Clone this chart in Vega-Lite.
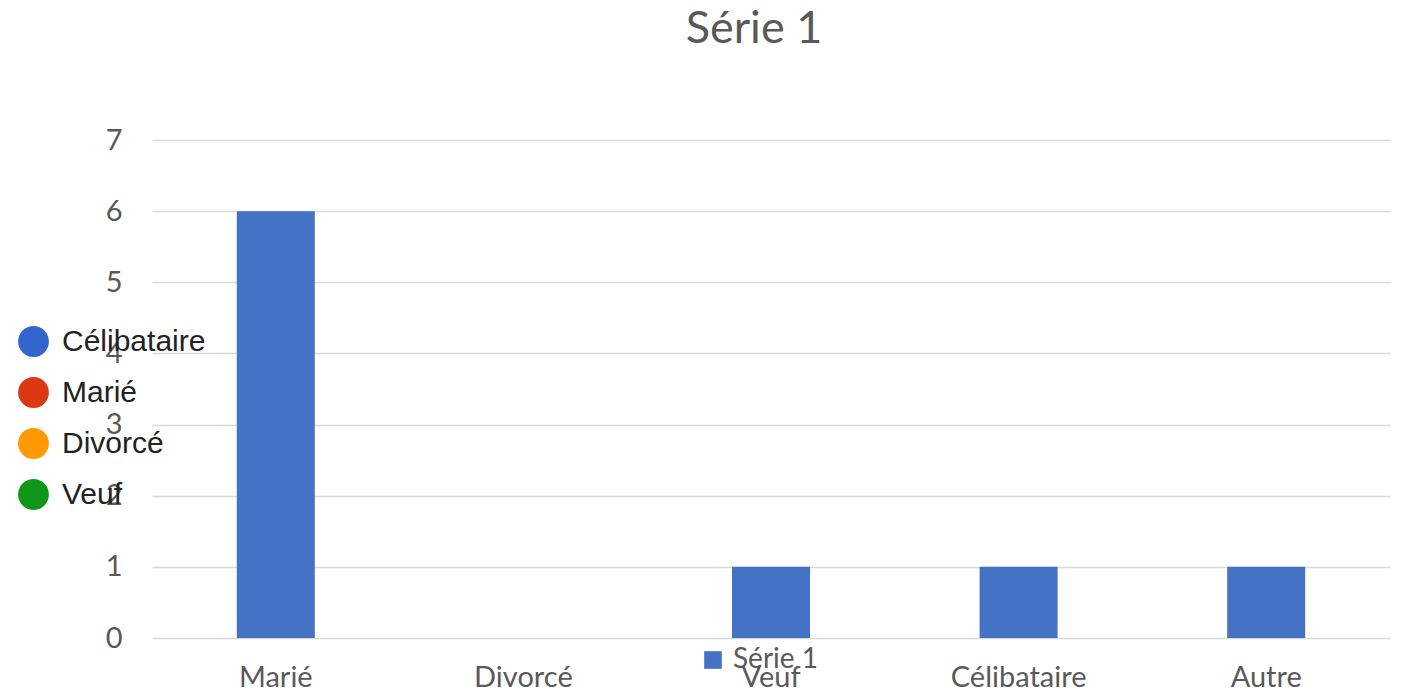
{
  "$schema": "https://vega.github.io/schema/vega-lite/v6.json",
  "autosize": "none",
  "width": 1238,
  "height": 498,
  "padding": {"left": 152, "top": 140, "right": 14, "bottom": 55},
  "background": "white",
  "title": {
    "text": "Série 1",
    "font": "Lato",
    "fontSize": 45,
    "fontWeight": "normal",
    "color": "#595959",
    "anchor": "middle",
    "dx": -17,
    "offset": 74
  },
  "config": {
    "view": {"stroke": null},
    "axis": {"labelFont": "Lato", "labelColor": "#595959", "labelFontSize": 29, "ticks": false, "domain": false, "title": null}
  },
  "layer": [
    {
      "data": {"values": [
        {"statut": "Marié", "valeur": 6, "serie": "Série 1"},
        {"statut": "Divorcé", "valeur": 0, "serie": "Série 1"},
        {"statut": "Veuf", "valeur": 1, "serie": "Série 1"},
        {"statut": "Célibataire", "valeur": 1, "serie": "Série 1"},
        {"statut": "Autre", "valeur": 1, "serie": "Série 1"}
      ]},
      "mark": {"type": "bar", "width": {"band": 0.315}},
      "encoding": {
        "x": {"field": "statut", "type": "nominal", "sort": null,
              "scale": {"paddingInner": 0, "paddingOuter": 0},
              "axis": {"labelAngle": 0, "labelPadding": 25, "grid": false}},
        "y": {"field": "valeur", "type": "quantitative",
              "scale": {"domain": [0, 7]},
              "axis": {"values": [0,1,2,3,4,5,6,7], "grid": true, "gridColor": "#d9d9d9", "gridWidth": 1.5, "labelPadding": 30}},
        "fill": {"field": "serie", "type": "nominal",
                 "scale": {"range": ["#4472C4"]},
                 "legend": {"orient": "none", "legendX": 547, "legendY": 506, "title": null,
                            "symbolType": "square", "symbolSize": 310, "labelFont": "Lato",
                            "labelFontSize": 28, "labelColor": "#595959", "labelOffset": 6}}
      }
    },
    {
      "data": {"values": [
        {"legende": "Célibataire"},
        {"legende": "Marié"},
        {"legende": "Divorcé"},
        {"legende": "Veuf"}
      ]},
      "mark": {"type": "point", "filled": true, "opacity": 0},
      "encoding": {
        "color": {"field": "legende", "type": "nominal", "sort": null,
                  "scale": {"domain": ["Célibataire", "Marié", "Divorcé", "Veuf"], "range": ["#3366CC", "#DC3912", "#FF9900", "#109618"]},
                  "legend": {"orient": "none", "legendX": -134, "legendY": 186, "title": null,
                             "symbolType": "circle", "symbolSize": 950, "symbolOpacity": 1, "symbolStrokeWidth": 0,
                             "labelFont": "Liberation Sans", "labelFontSize": 30, "labelColor": "#222222",
                             "labelOffset": 13, "rowPadding": 20}}
      }
    }
  ]
}
